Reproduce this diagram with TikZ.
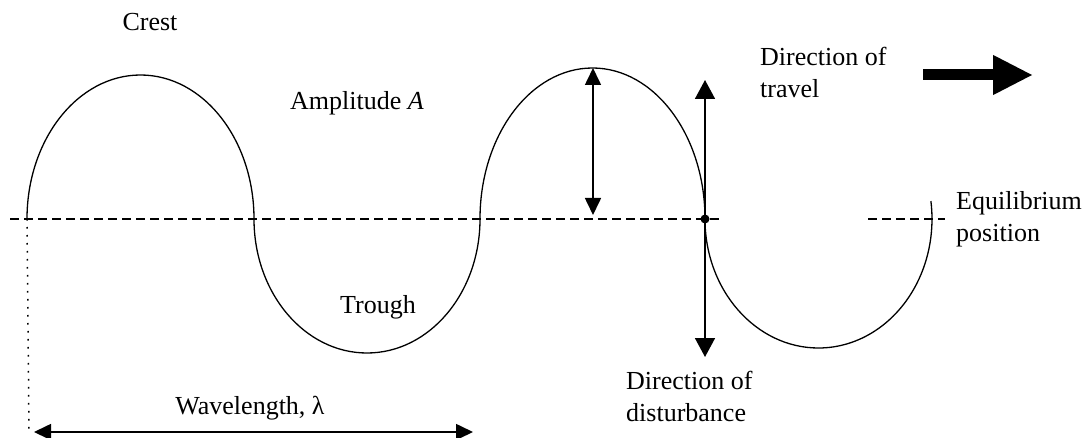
\documentclass[tikz,border=0pt]{standalone}
\usepackage{fontspec}
\setmainfont{Liberation Serif}
\usetikzlibrary{arrows.meta,positioning}

\begin{document}
\begin{tikzpicture}[x=1pt,y=1pt,
    font=\fontsize{26}{32}\selectfont,
    txt/.style={align=left,inner sep=0pt},
    equil/.style={line width=1.4pt,dash pattern=on 9pt off 5pt},
    dblarr/.style={line width=1.6pt,{Triangle[length=17pt,width=16pt]}-{Triangle[length=17pt,width=16pt]}},
    sglarr/.style={line width=1.6pt,-{Triangle[length=19pt,width=20pt]}}]
        \useasboundingbox (0,0) rectangle (1092,437);
        % equilibrium line
        \coordinate (e1) at (10,218);
        \coordinate (e2) at (722,218);
        \coordinate (e3) at (868,218);
        \coordinate (e4) at (945,218);
        \draw[equil] (e1)--(e2);
        \draw[equil] (e3)--(e4);
        % the wave
        \coordinate (w0) at (27,218);
        \draw[line width=1.3pt] (w0) arc[start angle=180,end angle=0,x radius=113.5,y radius=144]
            arc[start angle=180,end angle=360,x radius=113,y radius=134]
            arc[start angle=180,end angle=0,x radius=112.5,y radius=151]
            arc[start angle=180,end angle=368,x radius=113.5,y radius=129];
        % amplitude
        \coordinate (ca) at (593,369);
        \coordinate (cb) at (593,222);
        \draw[dblarr] (ca)--(cb);
        % disturbance
        \node[circle,fill,inner sep=0pt,minimum size=9pt] (d) at (705,218) {};
        \coordinate (up) at (705,357);
        \coordinate (dn) at (705,80);
        \draw[sglarr] (d.center)--(up);
        \draw[sglarr] (d.center)--(dn);
        % wavelength
        \coordinate (l0) at (29,5);
        \coordinate (l1) at (34,5);
        \coordinate (l2) at (473,5);
        \draw[line width=1.5pt,dash pattern=on 1.6pt off 6.4pt] (w0)--(l0);
        \draw[dblarr] (l1)--(l2);
        % direction of travel
        \coordinate (t1) at (923,362);
        \coordinate (t2) at (1033,362);
        \draw[line width=11pt,-{Triangle[length=40pt,width=37pt]}] (t1)--(t2);
        % labels
        \node (crest) at (150,415) {Crest};
        \node (amp) at (357,334) {Amplitude \textit{A}};
        \node (trough) at (378,130) {Trough};
        \node (wlen) at (250,29) {Wavelength, λ};
        \node[txt,anchor=north west] (trav) at (760,390) {Direction of\\travel};
        \node[txt,anchor=north west] (eqp) at (956,246) {Equilibrium\\position};
        \node[txt,anchor=north west] (dist) at (626,66) {Direction of\\disturbance};
      \end{tikzpicture}
\end{document}
